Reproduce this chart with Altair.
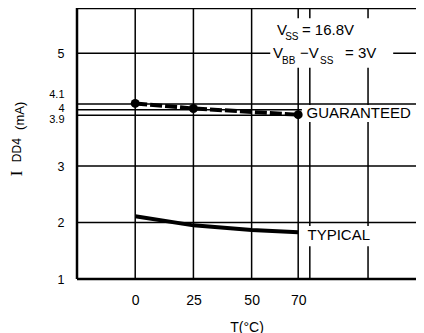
import altair as alt
import pandas as pd

# ---- data ----
guar_temps = [0, 25, 70]
guaranteed = [4.11, 4.02, 3.91]
typ_temps = [0, 25, 50, 70]
typical = [2.11, 1.95, 1.87, 1.83]

x_ticks = [0, 25, 50, 70]
y_ticks = [1, 2, 3, 3.9, 4, 4.1, 5]
x_grid = [0, 25, 50, 70, 75, 100]
y_grid = [2, 3, 3.9, 4, 4.1, 5]

X_DOMAIN = [-25, 120.6]
Y_DOMAIN = [1, 5.8]

# annotation pieces (data coordinates: degC, mA)
ann_text = ["V", "SS", "= 16.8V", "V", "BB", "\u2212V", "SS", "= 3V", "GUARANTEED", "TYPICAL"]
ann_x = [60.9, 64.4, 71.6, 59.2, 63.1, 70.8, 79.4, 90.1, 73.6, 74.0]
ann_y = [5.41, 5.29, 5.41, 5.0, 4.86, 5.0, 4.86, 5.0, 3.94, 1.78]
ann_fs = [15, 10, 15, 15, 10, 15, 10, 15, 15, 15]

# white boxes behind the annotations
box_x1 = [58.0, 71.6, 71.6]
box_x2 = [110.8, 120.6, 105.5]
box_y1 = [4.74, 3.78, 1.58]
box_y2 = [5.62, 4.08, 1.94]

FONT = "Liberation Sans"

xscale = alt.Scale(domain=X_DOMAIN, nice=False, zero=False)
yscale = alt.Scale(domain=Y_DOMAIN, nice=False, zero=False)

xaxis = alt.Axis(values=x_ticks, title="T(\u00b0C)", grid=False, ticks=False, domain=False,
                 labelFontSize=14, titleFontSize=14, titleFontWeight="normal",
                 labelPadding=14, titlePadding=13, labelColor="black", titleColor="black",
                 labelFont=FONT, titleFont=FONT)
yaxis = alt.Axis(values=y_ticks, title="", grid=False, ticks=False, domain=False, format="~g",
                 labelPadding=13, labelColor="black", labelFont=FONT,
                 labelOverlap=False,
                 labelFontSize={"condition": {"test": "datum.value > 3.5 && datum.value < 4.5",
                                              "value": 11},
                                "value": 12.5},
                 labelOffset={"condition": [{"test": "datum.value == 4.1", "value": -9},
                                            {"test": "datum.value == 4", "value": -1.5},
                                            {"test": "datum.value == 3.9", "value": 4}],
                              "value": 0})

X = lambda f: alt.X(f, scale=xscale, axis=xaxis)
Y = lambda f: alt.Y(f, scale=yscale, axis=yaxis)

vrules = alt.Chart(pd.DataFrame({"x": x_grid})).mark_rule(color="black", strokeWidth=1.5).encode(
    x=X("x:Q"))
hrules = alt.Chart(pd.DataFrame({"y": y_grid})).mark_rule(color="black", strokeWidth=1.5).encode(
    y=Y("y:Q"))

# plot frame (left, bottom, top edges)
frame_v = alt.Chart(pd.DataFrame({"x": [X_DOMAIN[0]]})).mark_rule(color="black", strokeWidth=2.5).encode(
    x=X("x:Q"))
frame_h = alt.Chart(pd.DataFrame({"y": Y_DOMAIN})).mark_rule(color="black", strokeWidth=2.5).encode(
    y=Y("y:Q"))

boxes = alt.Chart(pd.DataFrame({"x": box_x1, "x2": box_x2, "y": box_y1, "y2": box_y2})).mark_rect(
    color="white").encode(x=X("x:Q"), x2="x2:Q", y=Y("y:Q"), y2="y2:Q")

typ = alt.Chart(pd.DataFrame({"x": typ_temps, "y": typical})).mark_line(
    color="black", strokeWidth=4).encode(x=X("x:Q"), y=Y("y:Q"))

gdf = pd.DataFrame({"x": guar_temps, "y": guaranteed})
gline = alt.Chart(gdf).mark_line(color="black", strokeWidth=4, strokeDash=[12, 3]).encode(
    x=X("x:Q"), y=Y("y:Q"))
gpts = alt.Chart(gdf).mark_point(filled=True, color="black", size=80, opacity=1).encode(
    x=X("x:Q"), y=Y("y:Q"))

ann = alt.Chart(pd.DataFrame({"txt": ann_text, "x": ann_x, "y": ann_y, "fs": ann_fs})).mark_text(
    align="left", baseline="middle", font=FONT, color="black").encode(
    x=X("x:Q"), y=Y("y:Q"),
    text="txt:N", size=alt.Size("fs:Q", scale=None, legend=None))

def ytitle_piece(txt, yv, px, fs, font):
    return alt.Chart(pd.DataFrame({"txt": [txt], "y": [yv]})).mark_text(
        align="left", baseline="middle", angle=270, font=font, fontSize=fs,
        color="black").encode(x=alt.value(px), y=Y("y:Q"), text="txt:N")

yt1 = ytitle_piece("I", 2.82, -60, 17, "Liberation Serif")
yt2 = ytitle_piece("DD4", 3.07, -60, 12, FONT)
yt3 = ytitle_piece("(mA)", 3.64, -57, 13, FONT)

chart = alt.layer(vrules, hrules, boxes, frame_v, frame_h, typ, gline, gpts, ann, yt1, yt2, yt3).properties(
    width=339, height=271, autosize="none",
    padding={"left": 69, "top": 0, "right": 0, "bottom": 54},
    background="white",
).configure(font=FONT).configure_view(stroke=None)

chart.save("out.html", embed_options={"renderer": "svg", "actions": False})
